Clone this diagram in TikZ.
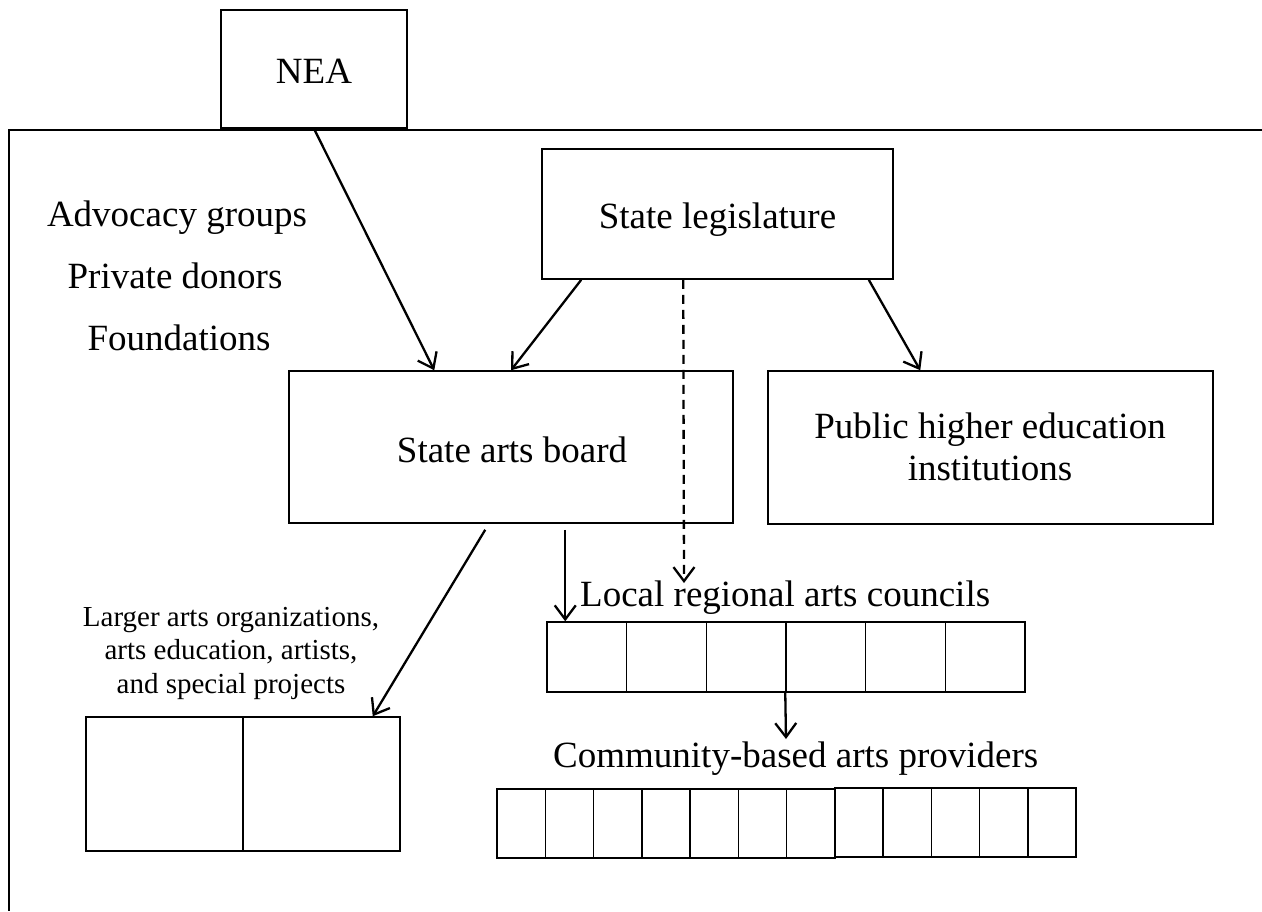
\documentclass[tikz,border=0pt]{standalone}
\usepackage{fontspec}
\setmainfont{Liberation Serif}
\usetikzlibrary{arrows.meta}
\newcommand\bigf{\fontsize{37}{42}\selectfont}
\newcommand\smallf{\fontsize{29}{33.5}\selectfont}
\tikzset{
  boxs/.style={draw, line width=1.5pt, inner sep=0pt, minimum width=#1},
  txt/.style={inner sep=0pt, font=\bigf},
  arr/.style={line width=2.3pt, -{Straight Barb[length=14pt,width=21pt,line width=2.3pt]}},
  dsh/.style={arr, dash pattern=on 9pt off 6pt}
}
\begin{document}
\begin{tikzpicture}[x=1pt,y=-1pt]
\useasboundingbox (0,0) rectangle (1262,911);
% frame
\draw[line width=1.5pt] (1262,130) -- (9,130) -- (9,911);
% boxes
\node[boxs=186pt, minimum height=118pt] (nea) at (314,69) {};
\node[txt, anchor=base] (neat) at (314,83) {NEA};
\node[boxs=351pt, minimum height=130pt] (leg) at (717.5,214) {};
\node[txt, anchor=base] (legt) at (717.5,228) {State legislature};
\node[boxs=444pt, minimum height=152pt] (arts) at (511,447) {};
\node[txt, anchor=base] (artst) at (512,462) {State arts board};
\node[boxs=445pt, minimum height=153pt] (pub) at (990.5,447.5) {};
\node[txt, anchor=base, align=center] (pubt) at (990,480) {Public higher education\\institutions};
% side texts
\node[txt, anchor=base] (adv) at (177,226) {Advocacy groups};
\node[txt, anchor=base] (prv) at (175,288) {Private donors};
\node[txt, anchor=base] (fnd) at (179,350) {Foundations};
% larger arts
\node[inner sep=0pt, anchor=base, align=center, font=\smallf] (lgt) at (231,693) {Larger arts organizations,\\arts education, artists,\\and special projects};
\node[boxs=157pt, minimum height=134pt] (lg1) at (164.5,784) {};
\node[boxs=157pt, minimum height=134pt] (lg2) at (321.5,784) {};
% local councils
\node[txt, anchor=base west] (loct) at (580,606) {Local regional arts councils};
\foreach \i in {1,...,6} {
  \node[boxs=79.67pt, minimum height=70pt] (loc\i) at ({547+79.67*(\i-0.5)},657) {};
}
% community
\node[txt, anchor=base west] (comt) at (553,767) {Community-based arts providers};
\foreach \i in {1,...,7} {
  \node[boxs=48.25pt, minimum height=69pt] (com\i) at ({497+48.25*(\i-0.5)},823.5) {};
}
\foreach \i in {8,...,12} {
  \node[boxs=48.25pt, minimum height=69pt] (com\i) at ({497+48.25*(\i-0.5)},822.5) {};
}
% connectors
\coordinate (dashend) at (684,583);
\coordinate (comtop) at (786,739);
\draw[arr] (nea.south) -- ([xshift=146pt]arts.north west);
\draw[arr] ([xshift=40pt]leg.south west) -- (arts.north);
\draw[arr] ([xshift=-25pt]leg.south east) -- ([xshift=153pt]pub.north west);
\draw[dsh] ([xshift=142pt]leg.south west) -- (dashend);
\draw[arr] ([xshift=197pt,yshift=-6pt]arts.south west) -- ([xshift=-28pt]lg2.north east);
\draw[arr] ([xshift=277pt,yshift=-6pt]arts.south west) -- ([xshift=19pt]loc1.north west);
\draw[arr] (loc4.south west) -- (comtop);
\end{tikzpicture}
\end{document}
